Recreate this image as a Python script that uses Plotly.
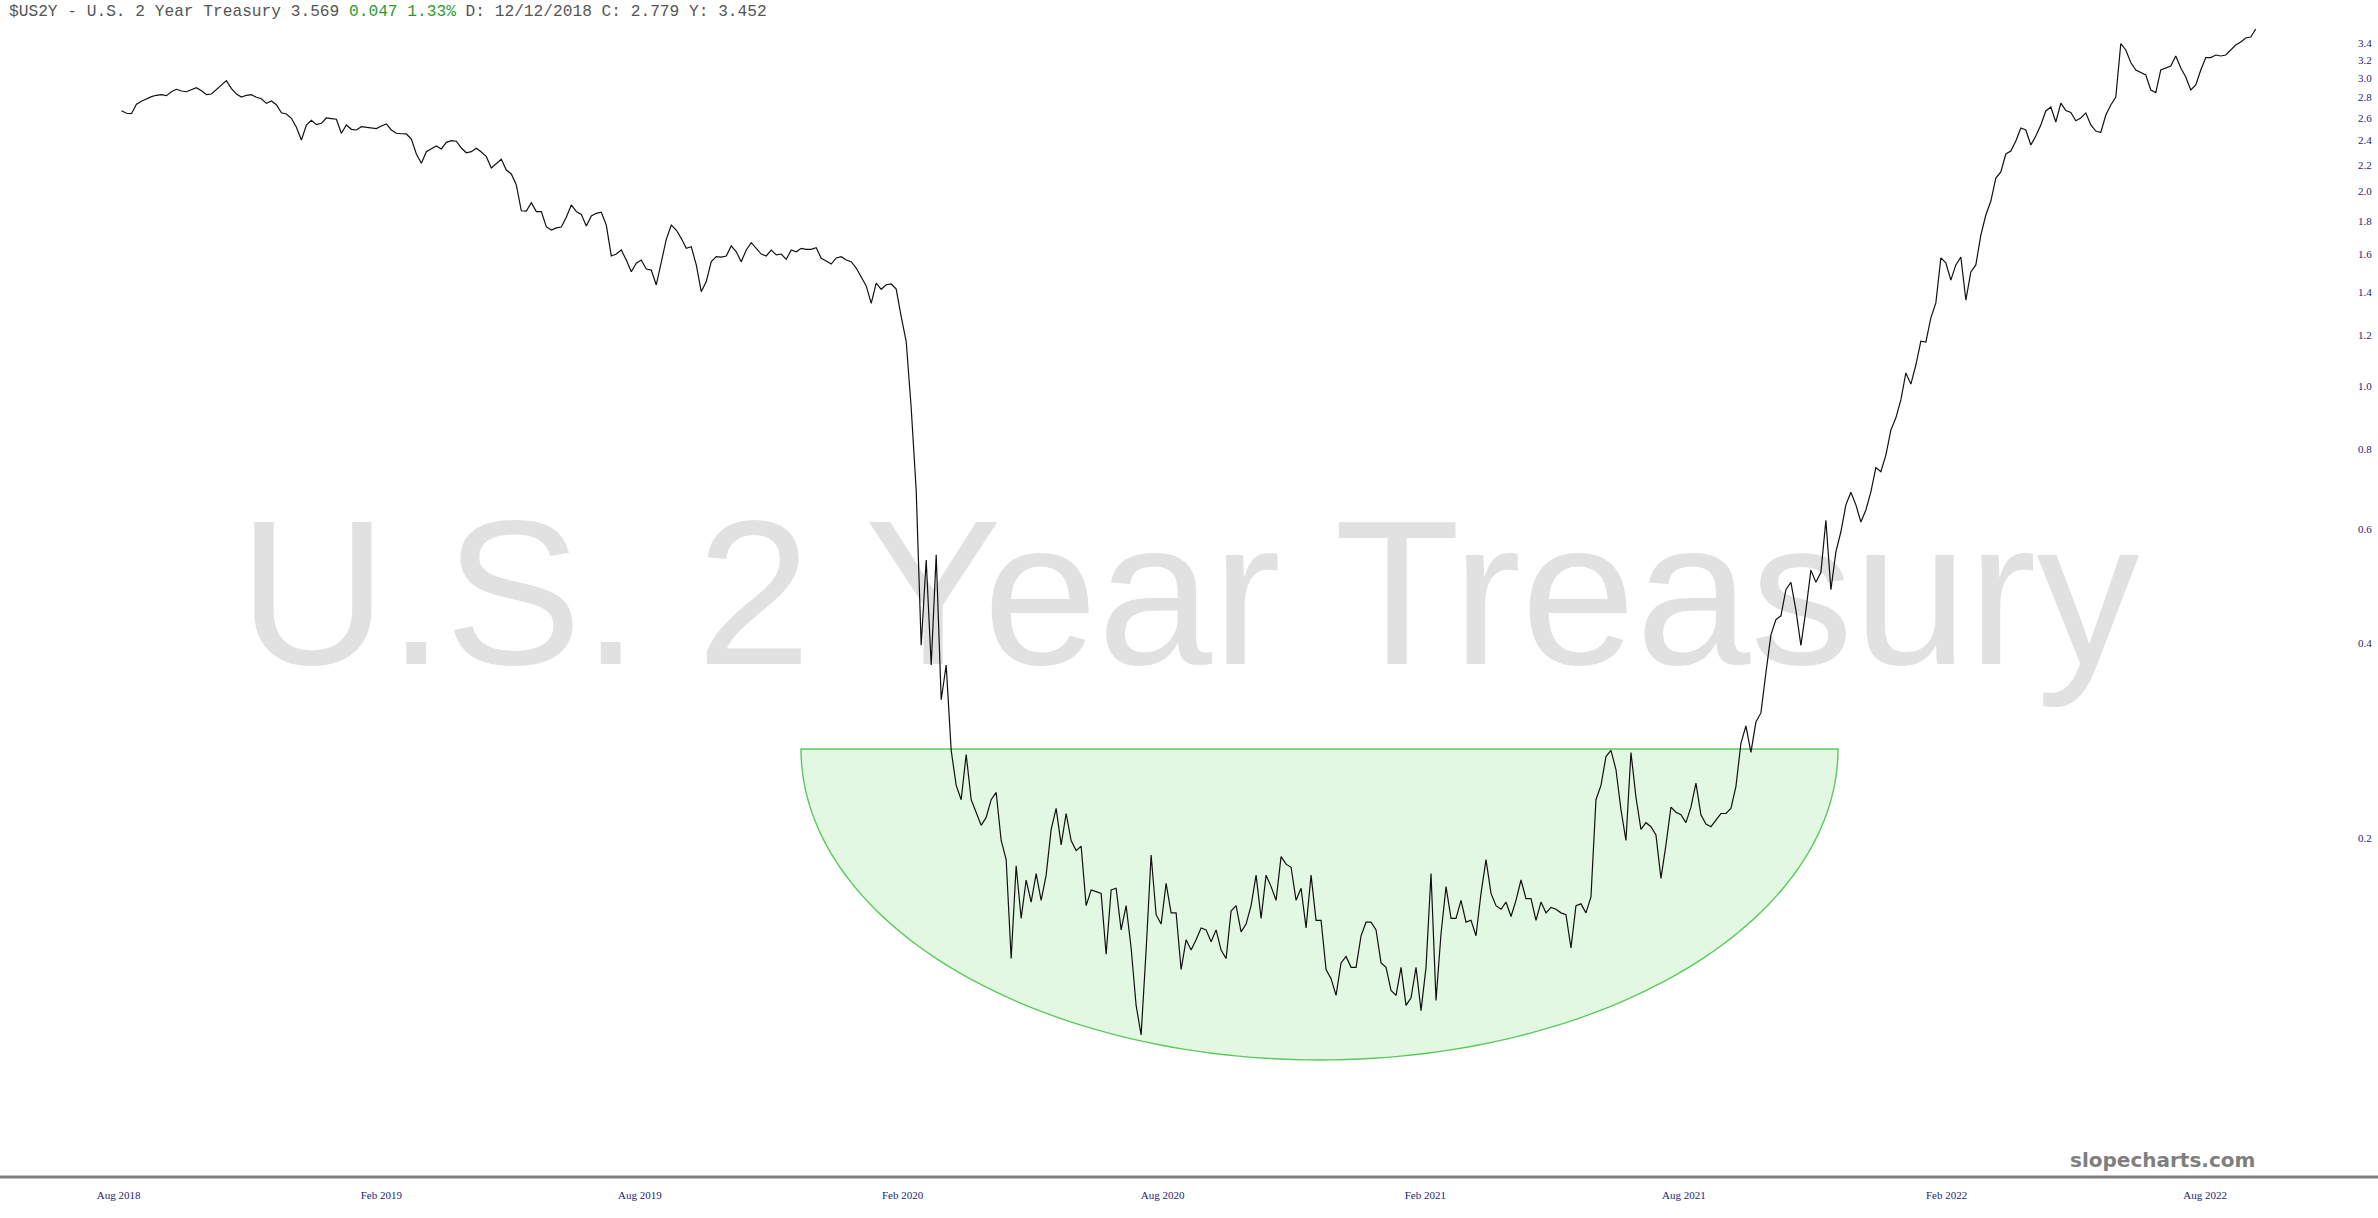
import math
import pandas as pd
import plotly.graph_objects as go

# ---------------- data (closes, every 3.5 days) ----------------
START_DATE = "2018-08-03"
STEP = "84h"
yield_pct = [
    # Aug 2018 - Feb 2020
    2.668, 2.644, 2.640, 2.730, 2.760, 2.785, 2.805, 2.819, 2.825, 2.815,
    2.855, 2.880, 2.862, 2.855, 2.876, 2.896, 2.865, 2.825, 2.832, 2.880,
    2.921, 2.970, 2.886, 2.832, 2.802, 2.819, 2.825, 2.799, 2.785, 2.739,
    2.762, 2.726, 2.649, 2.637, 2.597, 2.515, 2.404, 2.536, 2.579, 2.539,
    2.551, 2.600, 2.594, 2.588, 2.462, 2.536, 2.497, 2.491, 2.520, 2.515,
    2.509, 2.503, 2.527, 2.545, 2.491, 2.462, 2.458, 2.456, 2.412, 2.287,
    2.212, 2.306, 2.330, 2.353, 2.328, 2.384, 2.398, 2.393, 2.336, 2.297,
    2.306, 2.334, 2.303, 2.265, 2.176, 2.207, 2.244, 2.160, 2.130, 2.048,
    1.868, 1.866, 1.922, 1.862, 1.862, 1.765, 1.744, 1.757, 1.763, 1.825,
    1.907, 1.862, 1.844, 1.769, 1.833, 1.851, 1.858, 1.775, 1.590, 1.601,
    1.624, 1.567, 1.503, 1.549, 1.567, 1.518, 1.512, 1.434, 1.549, 1.687,
    1.775, 1.744, 1.693, 1.634, 1.643, 1.540, 1.400, 1.451, 1.558, 1.586,
    1.583, 1.590, 1.648, 1.614, 1.558, 1.624, 1.667, 1.634, 1.601, 1.590,
    1.624, 1.596, 1.601, 1.571, 1.624, 1.614, 1.634, 1.628, 1.628, 1.637,
    1.577, 1.562, 1.545, 1.579, 1.586, 1.567, 1.558, 1.523, 1.477, 1.429,
    1.343, 1.443, 1.412, 1.435, 1.439, 1.413, 1.281, 1.172,
    # crash and the low-rate base
    0.925, 0.690, 0.397, 0.538, 0.370, 0.548, 0.327, 0.370, 0.273, 0.241,
    0.229, 0.269, 0.229, 0.219, 0.209, 0.215, 0.229, 0.235, 0.198, 0.185,
    0.130, 0.181, 0.150, 0.172, 0.159, 0.176, 0.160, 0.175, 0.206, 0.222,
    0.195, 0.218, 0.198, 0.191, 0.194, 0.157, 0.166, 0.165, 0.164, 0.132,
    0.166, 0.167, 0.144, 0.157, 0.135, 0.110, 0.099, 0.134, 0.188, 0.152,
    0.147, 0.170, 0.153, 0.153, 0.125, 0.139, 0.134, 0.139, 0.145, 0.144,
    0.138, 0.144, 0.134, 0.130, 0.154, 0.157, 0.143, 0.147, 0.157, 0.175,
    0.150, 0.175, 0.168, 0.160, 0.187, 0.182, 0.180, 0.160, 0.167, 0.145,
    0.175, 0.149, 0.149, 0.125, 0.121, 0.114, 0.128, 0.131, 0.126, 0.126,
    0.141, 0.148, 0.148, 0.144, 0.128, 0.126, 0.116, 0.114, 0.126, 0.110,
    0.113, 0.126, 0.108, 0.126, 0.176, 0.112, 0.142, 0.168, 0.150, 0.150,
    0.160, 0.148, 0.149, 0.141, 0.164, 0.185, 0.164, 0.157, 0.155, 0.159,
    0.151, 0.160, 0.172, 0.161, 0.161, 0.149, 0.159, 0.153, 0.156, 0.155,
    0.153, 0.152, 0.135, 0.157, 0.158, 0.153, 0.162, 0.229, 0.241, 0.267,
    0.273, 0.255, 0.221, 0.198, 0.271, 0.231, 0.206, 0.211, 0.208, 0.202,
    0.173, 0.195, 0.223, 0.219, 0.217, 0.211, 0.223, 0.243, 0.217, 0.210,
    0.208, 0.213, 0.218, 0.218, 0.222, 0.240, 0.280, 0.298, 0.271, 0.302,
    # hiking cycle
    0.312, 0.360, 0.412, 0.435, 0.441, 0.484, 0.497, 0.450, 0.397, 0.450,
    0.519, 0.497, 0.515, 0.620, 0.484, 0.554, 0.595, 0.655, 0.685, 0.655,
    0.616, 0.643, 0.686, 0.748, 0.737, 0.782, 0.855, 0.893, 0.952, 1.048,
    1.007, 1.078, 1.174, 1.170, 1.275, 1.345, 1.579, 1.551, 1.459, 1.540,
    1.584, 1.359, 1.502, 1.540, 1.713, 1.840, 1.934, 2.099, 2.145, 2.287,
    2.311, 2.396, 2.509, 2.491, 2.361, 2.438, 2.536, 2.666, 2.704, 2.563,
    2.742, 2.669, 2.651, 2.575, 2.600, 2.647, 2.536, 2.482, 2.469, 2.628,
    2.723, 2.802, 3.390, 3.313, 3.168, 3.085, 3.057, 3.030, 2.873, 2.847,
    3.085, 3.107, 3.129, 3.243, 3.107, 3.009, 2.873, 2.924, 3.085, 3.225,
    3.225, 3.254, 3.243, 3.254, 3.313, 3.372, 3.408, 3.457, 3.470, 3.570,
]
dates = pd.date_range(START_DATE, periods=len(yield_pct), freq=STEP)

y_tick_vals = [0.2, 0.4, 0.6, 0.8, 1.0, 1.2, 1.4, 1.6, 1.8, 2.0, 2.2, 2.4,
               2.6, 2.8, 3.0, 3.2, 3.4]
y_tick_text = [f"{v:.1f}" for v in y_tick_vals]
x_tick_dates = ["2018-08-01", "2019-02-01", "2019-08-01", "2020-02-01",
                "2020-08-01", "2021-02-01", "2021-08-01", "2022-02-01",
                "2022-08-01"]
x_tick_text = ["Aug 2018", "Feb 2019", "Aug 2019", "Feb 2020", "Aug 2020",
               "Feb 2021", "Aug 2021", "Feb 2022", "Aug 2022"]

SYMBOL = "$US2Y"
NAME = "U.S. 2 Year Treasury"
LAST, CHG, CHG_PCT = "3.569", "0.047", "1.33%"
HOVER_D, HOVER_C, HOVER_Y = "12/12/2018", "2.779", "3.452"

# ---------------- layout geometry ----------------
W, H = 2378, 1218
M_L, M_R, M_T, M_B = 0, 21, 0, 41
PW, PH = W - M_L - M_R, H - M_T - M_B

REF_DATE = pd.Timestamp("2018-08-01")
REF_DATE_PX = 118.6
PX_PER_DAY = 1.4281
x0 = REF_DATE - pd.Timedelta(days=REF_DATE_PX / PX_PER_DAY)
x1 = x0 + pd.Timedelta(days=PW / PX_PER_DAY)

REF_VAL, REF_VAL_PX, PX_PER_DEC = 3.4, 42.7, 646.1
ytop = math.log10(REF_VAL) + REF_VAL_PX / PX_PER_DEC
ybot = math.log10(REF_VAL) - (PH - REF_VAL_PX) / PX_PER_DEC


def px_to_date(px):
    return x0 + pd.Timedelta(days=px / PX_PER_DAY)


def px_to_val(py):
    return 10 ** (ytop - py / PX_PER_DEC)


AXIS_FONT = dict(family="Times New Roman, Liberation Serif, serif", size=11,
                 color="#23237a")

fig = go.Figure()

# watermark, drawn first so the price line passes over it
fig.add_trace(go.Scatter(
    x=[px_to_date(1189)], y=[px_to_val(612)], mode="text", text=[NAME],
    textposition="middle center", hoverinfo="skip", showlegend=False,
    textfont=dict(family="Arial, Liberation Sans, sans-serif", size=206,
                  color="#e1e1e1")))

fig.add_trace(go.Scatter(
    x=dates, y=yield_pct, mode="lines", showlegend=False,
    line=dict(color="#111111", width=1.2), hoverinfo="x+y"))

# green half-ellipse highlight (pixel geometry -> paper coords)
cx, cy, rx, ry = 1319.5, 749.0, 518.5, 311.0
pts = []
for i in range(121):
    t = math.pi * i / 120
    pts.append(((cx + rx * math.cos(t)) / PW, 1 - (cy + ry * math.sin(t)) / PH))
path = "M " + " L ".join(f"{a:.5f},{b:.5f}" for a, b in pts) + " Z"
fig.add_shape(type="path", path=path, xref="paper", yref="paper",
              fillcolor="#e3f8e3", line=dict(color="#5cc85c", width=1.4),
              layer="below")

# bottom axis rule spanning the full width
fig.add_shape(type="line", xref="paper", yref="paper", x0=0, x1=W / PW,
              y0=0, y1=0, line=dict(color="#808080", width=3))

header = (f"<span style='color:#555555'>{SYMBOL} - {NAME} {LAST} </span>"
          f"<span style='color:#2e9a2e'>{CHG} {CHG_PCT}</span>"
          f"<span style='color:#555555'> D: {HOVER_D} C: {HOVER_C} "
          f"Y: {HOVER_Y}</span>")
fig.add_annotation(text=header, xref="paper", yref="paper", x=7 / PW,
                   y=1 - 12 / PH, xanchor="left", yanchor="middle",
                   showarrow=False,
                   font=dict(family="Courier New, Liberation Mono, monospace",
                             size=16.2, color="#555555"))

fig.add_annotation(text="<b>slopecharts.com</b>", xref="paper", yref="paper",
                   x=2257 / PW, y=1 - 1160 / PH, xanchor="right",
                   yanchor="middle", showarrow=False,
                   font=dict(family="DejaVu Sans, Verdana, sans-serif",
                             size=20, color="#7f7f7f"))

fig.update_layout(
    width=W, height=H, margin=dict(l=M_L, r=M_R, t=M_T, b=M_B),
    paper_bgcolor="white", plot_bgcolor="white", showlegend=False,
    xaxis=dict(type="date", range=[x0, x1], showgrid=False, zeroline=False,
               showline=False, tickvals=x_tick_dates, ticktext=x_tick_text,
               ticks="outside", ticklen=8, tickcolor="rgba(0,0,0,0)",
               tickfont=AXIS_FONT),
    yaxis=dict(type="log", range=[ybot, ytop], side="right", showgrid=False,
               zeroline=False, showline=False, tickvals=y_tick_vals,
               ticktext=y_tick_text, ticks="", tickfont=AXIS_FONT),
)

fig.write_html(
    "out.html",
    config={"displayModeBar": False},
    post_script="document.body.style.margin='0';"
                "document.body.style.overflow='hidden';",
)
